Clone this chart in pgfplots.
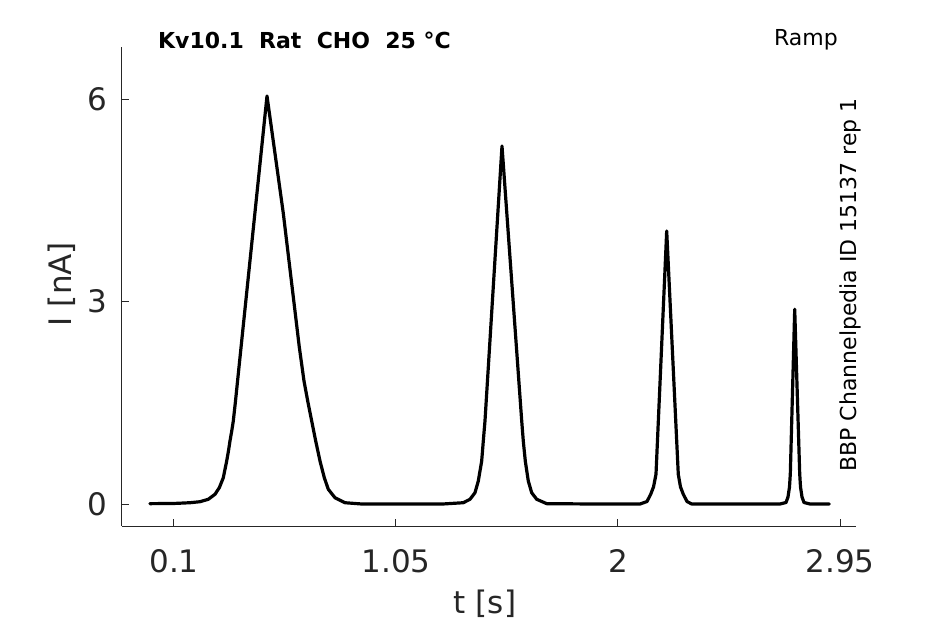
\documentclass[border=0pt]{standalone}
\usepackage{pgfplots}
\pgfplotsset{compat=1.18}
\usepackage{fontspec}
\setmainfont{DejaVu Sans}
\definecolor{axgray}{HTML}{262626}
\pgfplotstableread{
t I
-0.003 0.005
0.100 0.008
0.1685 0.019
0.2113 0.034
0.2468 0.070
0.2755 0.144
0.2939 0.242
0.3110 0.390
0.3255 0.637
0.3330 0.785
0.3396 0.934
0.3470 1.080
0.3538 1.230
0.3632 1.527
0.498 6.047
0.5677 4.310
0.6360 2.331
0.6563 1.823
0.6722 1.527
0.6893 1.230
0.7064 0.934
0.7248 0.637
0.7432 0.390
0.7603 0.218
0.789 0.093
0.8318 0.019
0.9032 0.0
1.100 0.0
1.250 0.0
1.338 0.019
1.3667 0.070
1.388 0.167
1.4022 0.341
1.4167 0.637
1.4236 0.934
1.4308 1.230
1.5036 5.306
1.588 1.230
1.5947 0.934
1.6033 0.637
1.6161 0.341
1.6307 0.167
1.652 0.070
1.6949 0.005
1.900 0.0
2.0942 0.0
2.1241 0.037
2.1399 0.144
2.1519 0.252
2.1626 0.440
2.2084 4.046
2.2580 0.440
2.2675 0.252
2.2795 0.144
2.2953 0.037
2.3154 0.0
2.500 0.0
2.6933 0.0
2.7190 0.022
2.7275 0.104
2.7339 0.252
2.7374 0.445
2.7562 2.886
2.7776 0.445
2.7810 0.252
2.7874 0.104
2.7960 0.022
2.8217 0.0
2.9043 0.0
}\trace
\begin{document}
\begin{tikzpicture}
\useasboundingbox (-122pt,-98pt) rectangle (823pt,526pt);
\begin{axis}[
  at={(0pt,0pt)}, anchor=south west,
  scale only axis,
  width=734pt, height=479pt,
  xmin=-0.1225, xmax=3.0185,
  ymin=-0.326, ymax=6.773,
  axis x line*=bottom, axis y line*=left,
  axis line style={draw=axgray, line width=1pt, -},
  tick align=inside,
  major tick length=7pt,
  tick style={draw=axgray, line width=1pt},
  xtick={0.1,1.05,2,2.95},
  xticklabels={0.1,1.05,2,2.95},
  ytick={0,3,6},
  yticklabels={0,3,6},
  /pgf/number format/assume math mode=true,
  tick label style={font=\fontsize{31}{36}\selectfont, text=axgray},
  xticklabel style={inner sep=0pt, yshift=-23pt},
  yticklabel style={inner sep=0pt, xshift=-15pt},
  clip=false,
]
\addplot[black, line width=3.2pt, line join=round, line cap=round] table[x=t, y=I] {\trace};
\end{axis}
\node[anchor=center, rotate=90, text=axgray, font=\fontsize{31}{36}\selectfont] at (-60pt,242pt) {I [nA]};
\node[anchor=center, text=axgray, font=\fontsize{31}{36}\selectfont] at (363pt,-78pt) {t [s]};
\node[anchor=west, inner sep=0pt, font=\fontsize{22}{26}\selectfont\bfseries] at (36pt,486pt) {Kv10.1\ \ Rat\ \ CHO\ \ 25~°C};
\node[anchor=east, inner sep=0pt, font=\fontsize{22}{26}\selectfont] at (716pt,486pt) {Ramp};
\node[anchor=center, rotate=90, inner sep=0pt, font=\fontsize{22}{26}\selectfont] at (728pt,241pt) {BBP Channelpedia ID 15137 rep 1};
\end{tikzpicture}
\end{document}
